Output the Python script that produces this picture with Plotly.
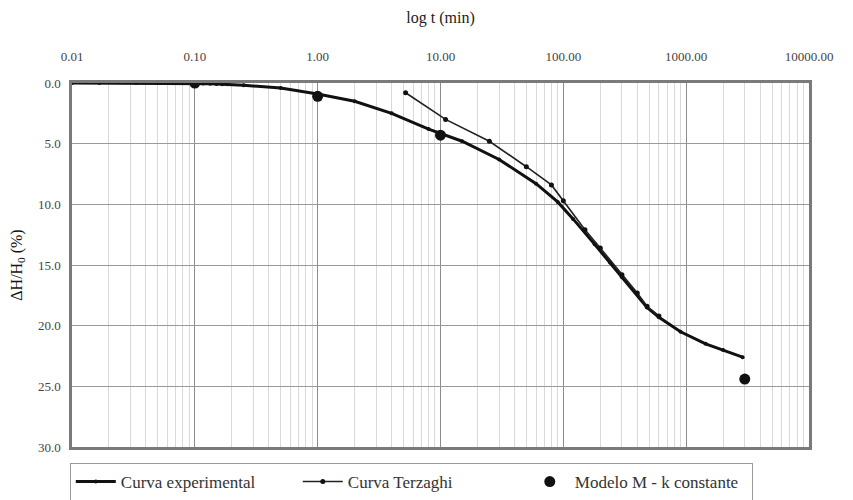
import plotly.graph_objects as go

# ---- data ----
t_exp = [0.01, 0.0167, 0.0333, 0.05, 0.0667, 0.0833, 0.1, 0.117, 0.133, 0.15, 0.167, 0.183,
         0.25, 0.5, 1, 2, 4, 8, 15, 30, 60, 90, 120, 180, 240, 300, 480, 600, 900, 1440, 2000, 2880]
d_exp = [0, 0, 0, 0, 0, 0, 0.02, 0.04, 0.06, 0.08, 0.1, 0.11,
         0.18, 0.42, 0.9, 1.5, 2.5, 3.8, 4.8, 6.3, 8.3, 9.8, 11.2, 13.3, 14.8, 16.0, 18.5, 19.3, 20.5, 21.5, 22.0, 22.6]

t_terz = [5.2, 11, 25, 50, 80, 100, 150, 200, 300, 400, 480, 600]
d_terz = [0.8, 3.0, 4.8, 6.9, 8.4, 9.7, 12.1, 13.6, 15.8, 17.3, 18.4, 19.2]

t_mod = [0.1, 1, 10, 3000]
d_mod = [0.0, 1.1, 4.3, 24.4]

x_tickvals = [0.01, 0.1, 1, 10, 100, 1000, 10000]
x_ticktext = ["0.01", "0.10", "1.00", "10.00", "100.00", "1000.00", "10000.00"]
y_tickvals = [0, 5, 10, 15, 20, 25, 30]
y_ticktext = ["0.0", "5.0", "10.0", "15.0", "20.0", "25.0", "30.0"]
minor_vals = [m * 10 ** e for e in range(-2, 4) for m in range(2, 10)]

FONT = "Liberation Serif, Times New Roman, serif"

fig = go.Figure()
fig.add_trace(go.Scatter(x=t_exp, y=d_exp, mode="lines+markers", name="Curva experimental",
                         line=dict(color="#111111", width=3),
                         marker=dict(color="#111111", size=4)))
fig.add_trace(go.Scatter(x=t_terz, y=d_terz, mode="lines+markers", name="Curva Terzaghi",
                         line=dict(color="#222222", width=1.6),
                         marker=dict(color="#111111", size=5)))
fig.add_trace(go.Scatter(x=t_mod, y=d_mod, mode="markers", name="Modelo M - k constante",
                         marker=dict(color="#111111", size=11)))

fig.update_layout(
    width=845, height=492,
    margin=dict(l=64, r=44, t=75, b=53, autoexpand=False),
    paper_bgcolor="white", plot_bgcolor="white",
    font=dict(family=FONT, color="#333333", size=13),
    showlegend=True,
    legend=dict(orientation="h", x=-0.003, xanchor="left", y=-0.044, yanchor="top",
                bordercolor="#9a9a9a", borderwidth=1, bgcolor="white",
                font=dict(family=FONT, size=17, color="#333333"),
                entrywidth=172, entrywidthmode="pixels", itemwidth=40,
                tracegroupgap=0),
)

fig.update_xaxes(
    type="log", side="top", range=[-2, 4], automargin=False,
    tickmode="array", tickvals=x_tickvals, ticktext=x_ticktext,
    tickfont=dict(family=FONT, size=13, color="#444444"),
    ticklabelstandoff=14,
    showgrid=True, gridcolor="#8c8c8c", gridwidth=1.3,
    minor=dict(tickmode="array", tickvals=minor_vals, showgrid=True,
               gridcolor="#d9d9d9", gridwidth=1),
    showline=True, linecolor="#7a7a7a", linewidth=2.5, mirror=True,
    zeroline=False,
    title=dict(text="log t (min)", font=dict(family=FONT, size=16, color="#222222"),
               standoff=22),
)
fig.update_yaxes(
    range=[30, 0], automargin=False,
    tickmode="array", tickvals=y_tickvals, ticktext=y_ticktext,
    tickfont=dict(family=FONT, size=13, color="#444444"),
    ticklabelstandoff=6,
    showgrid=True, gridcolor="#999999", gridwidth=1.3,
    showline=True, linecolor="#7a7a7a", linewidth=2.5, mirror=True,
    zeroline=False,
    title=dict(text="ΔH/H<sub>0</sub> (%)", font=dict(family=FONT, size=16, color="#111111"),
               standoff=18),
)

fig.write_html("out.html")
